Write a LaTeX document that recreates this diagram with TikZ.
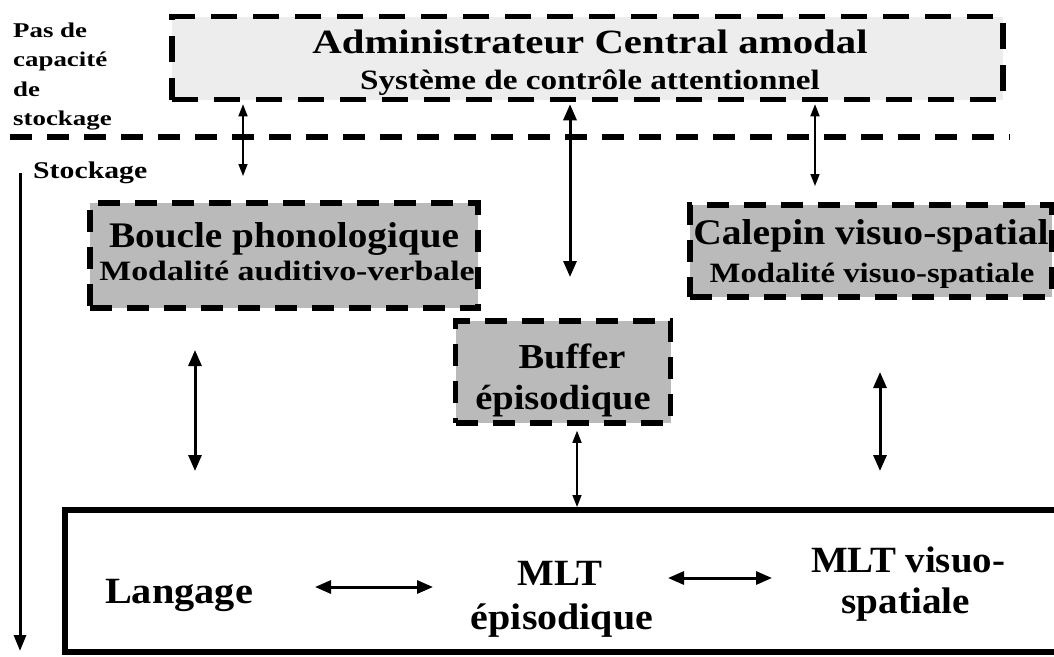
\documentclass[tikz,border=0pt]{standalone}
\usepackage{fontspec}
\usepackage{graphicx}
\setmainfont{Liberation Serif}
\usetikzlibrary{arrows.meta}
\newcommand{\sx}[2]{\scalebox{#1}[1]{#2}}
\newcommand{\fs}[1]{\bfseries\fontsize{#1}{#1}\selectfont}
\begin{document}
\begin{tikzpicture}[x=1pt,y=-1pt,
  dashbox/.style={draw=black, line width=5.5pt, dash pattern=on 22pt off 15pt, inner sep=0pt},
  lightfill/.style={fill=black!7},
  grayfill/.style={fill=black!27},
  txt/.style={inner sep=0pt, anchor=base},
  ltxt/.style={inner sep=0pt, anchor=base west},
  thinarr/.style={{Triangle[length=12pt,width=9pt]}-{Triangle[length=12pt,width=9pt]}, line width=1.6pt},
  thickarr/.style={{Triangle[length=16pt,width=13pt]}-{Triangle[length=16pt,width=13pt]}, line width=3pt},
]
\useasboundingbox (0,0) rectangle (1054,656);
\clip (0,0) rectangle (1054,656);

% top box
\node[dashbox, lightfill, dash pattern=on 26pt off 16pt, minimum width=831pt, minimum height=83pt] (top) at (587.5,58) {};
\node[txt, font=\fs{34}] (toptitle) at (590,53) {\sx{1.2}{Administrateur Central amodal}};
\node[txt, font=\fs{28}] (topsub) at (590,89) {\sx{1.185}{Système de contrôle attentionnel}};

% left labels
\node[ltxt, font=\fs{21}] (pas1) at (13,37) {\sx{1.28}{Pas de}};
\node[ltxt, font=\fs{21}] (pas2) at (13,66) {\sx{1.28}{capacité}};
\node[ltxt, font=\fs{21}] (pas3) at (13,96) {\sx{1.28}{de}};
\node[ltxt, font=\fs{21}] (pas4) at (13,125) {\sx{1.28}{stockage}};
\node[ltxt, font=\fs{24}] (stock) at (33,178) {\sx{1.24}{Stockage}};

% dashed separator
\coordinate (sepL) at (10,137);
\coordinate (sepR) at (1010,137);
\draw[line width=5.5pt, dash pattern=on 22pt off 15pt] (sepL) -- (sepR);

% storage arrow
\coordinate (stA) at (20,173);
\coordinate (stB) at (20,651);
\draw[line width=3pt, -{Triangle[length=16pt,width=12pt]}] (stA) -- (stB);

% boxes
\node[dashbox, grayfill, minimum width=388pt, minimum height=105pt] (boucle) at (284,255.5) {};
\node[txt, font=\fs{36}] (boucleT) at (284,247) {\sx{1.09}{Boucle phonologique}};
\node[txt, font=\fs{28}] (boucleS) at (287,280) {\sx{1.21}{Modalité auditivo-verbale}};

\node[dashbox, grayfill, minimum width=362pt, minimum height=92pt] (calepin) at (871,251) {};
\node[txt, font=\fs{36}] (calepinT) at (871,244) {\sx{1.1}{Calepin visuo-spatial}};
\node[txt, font=\fs{28}] (calepinS) at (872,282) {\sx{1.17}{Modalité visuo-spatiale}};

\node[dashbox, grayfill, minimum width=215pt, minimum height=102pt] (buffer) at (563,372) {};
\node[txt, font=\fs{35}] (bufferT) at (572,368) {\sx{1.1}{Buffer}};
\node[txt, font=\fs{35}] (bufferS) at (563,409) {\sx{1.1}{épisodique}};

% LTM box
\node[draw=black, line width=6pt, minimum width=1000pt, minimum height=142pt, inner sep=0pt] (ltm) at (565,581) {};
\node[txt, font=\fs{37}] (lang) at (179,603) {\sx{1.09}{Langage}};
\node[txt, font=\fs{37}] (mlt1) at (560,585) {\sx{1.05}{MLT}};
\node[txt, font=\fs{37}] (mlt2) at (562,629) {\sx{1.08}{épisodique}};
\node[txt, font=\fs{37}] (mlv1) at (908,572) {\sx{1.05}{MLT visuo-}};
\node[txt, font=\fs{37}] (mlv2) at (906,613) {\sx{1.06}{spatiale}};

% connectors
\coordinate (a1b) at (243,176);
\draw[thinarr] (top.south -| a1b) ++(0,2) -- (a1b);
\coordinate (a2b) at (570,277);
\draw[thickarr] (top.south -| a2b) ++(0,2) -- (a2b);
\coordinate (a3b) at (815,186);
\draw[thinarr] (top.south -| a3b) ++(0,2) -- (a3b);

\coordinate (a4t) at (195,350);
\coordinate (a4b) at (195,471);
\draw[thickarr] (a4t) -- (a4b);
\coordinate (a5t) at (880,372);
\coordinate (a5b) at (880,471);
\draw[thickarr] (a5t) -- (a5b);
\draw[thinarr] (buffer.south) ++(14,5) -- ([xshift=14pt]buffer.south |- ltm.north);

\coordinate (l1) at (315,587);
\coordinate (l2) at (433,587);
\draw[thickarr] (l1) -- (l2);
\coordinate (m1) at (668,578);
\coordinate (m2) at (772,578);
\draw[thickarr] (m1) -- (m2);
\end{tikzpicture}
\end{document}
